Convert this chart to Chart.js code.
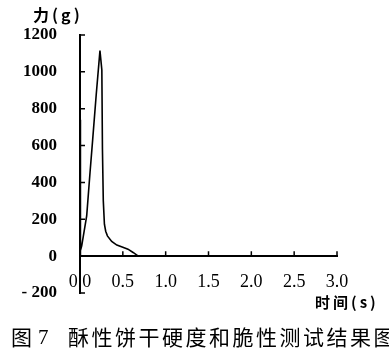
<!DOCTYPE html>
<html>
<head>
<meta charset="utf-8">
<script src="https://cdn.jsdelivr.net/npm/chart.js@4.4.0/dist/chart.umd.min.js"></script>
<style>
  body { margin: 0; background: #fff; }
  #wrap { width: 389px; height: 356px; position: relative; }
</style>
</head>
<body>
<div id="wrap"><canvas id="chart"></canvas></div>
<script>
// 时间 (s) 和 力 (g)
const times  = [0, 0, 0.01, 0.02, 0.078, 0.117, 0.148, 0.19, 0.233, 0.255, 0.262, 0.272, 0.285, 0.3, 0.32, 0.37, 0.43, 0.5, 0.56, 0.62, 0.68];
const forces = [0, 740, 30, 56, 218, 454, 632, 880, 1115, 1010, 580, 300, 173, 135, 110, 80, 60, 48, 38, 20, 0];

const xTicks = [0, 0.5, 1.0, 1.5, 2.0, 2.5, 3.0];
const yTicks = [-200, 0, 200, 400, 600, 800, 1000, 1200];

const yTitle = '力(g)';
const xTitle = '时间(s)';
const caption = '图 7';
const captionText = '酥性饼干硬度和脆性测试结果图';

const points = times.map((t, i) => ({ x: t, y: forces[i] }));

// 画向内的刻度和文字
const extras = {
    id: 'extras',
    afterDraw(chart) {
        const ctx = chart.ctx;
        const xs = chart.scales.x, ys = chart.scales.y;
        const left = chart.chartArea.left;
        const y0 = ys.getPixelForValue(0);
        ctx.save();
        ctx.strokeStyle = '#000';
        ctx.lineWidth = 1.5;
        ctx.beginPath();
        xTicks.forEach(v => {
            const px = xs.getPixelForValue(v);
            ctx.moveTo(px, y0);
            ctx.lineTo(px, y0 - 5);
        });
        yTicks.forEach(v => {
            const py = ys.getPixelForValue(v);
            ctx.moveTo(left, py);
            ctx.lineTo(left + 5, py);
        });
        ctx.stroke();

        ctx.fillStyle = '#000';
        ctx.textBaseline = 'middle';
        ctx.textAlign = 'left';
        ctx.letterSpacing = '3px';
        ctx.font = 'bold 16px "Noto Sans CJK SC"';
        ctx.fillText(yTitle, 33, 15);
        ctx.font = 'bold 15px "Noto Sans CJK SC"';
        ctx.fillText(xTitle, 315, 302);
        ctx.letterSpacing = '0px';

        ctx.font = '21px "Noto Sans CJK SC"';
        ctx.fillText('图', 11, 337);
        ctx.font = '21px "Liberation Serif"';
        ctx.fillText('7', 38, 338);
        ctx.font = '21px "Noto Sans CJK SC"';
        let cx = 68;
        for (const ch of captionText) {
            ctx.fillText(ch, cx, 337);
            cx += 23.5;
        }
        ctx.restore();
    }
};

const config = {
    type: 'line',
    data: {
        datasets: [{
            data: points,
            borderColor: '#000',
            borderWidth: 1.6,
            pointRadius: 0,
            tension: 0,
            fill: false
        }]
    },
    options: {
        responsive: true,
        maintainAspectRatio: false,
        animation: false,
        layout: { padding: { left: 0, right: 52, top: 35, bottom: 63 } },
        plugins: {
            legend: { display: false },
            tooltip: { enabled: false }
        },
        scales: {
            x: {
                type: 'linear',
                position: { y: 0 },
                min: 0,
                max: 3,
                afterFit: s => { s.height = 0; },
                afterBuildTicks: s => { s.ticks = xTicks.map(v => ({ value: v })); },
                grid: { display: false, drawTicks: false },
                border: { display: true, color: '#000', width: 2 },
                ticks: {
                    color: '#000',
                    padding: 15,
                    maxRotation: 0,
                    font: { family: '"Liberation Serif"', size: 18 },
                    callback: v => v.toFixed(1)
                }
            },
            y: {
                min: -200,
                max: 1200,
                afterFit: s => { s.width = 80; },
                afterBuildTicks: s => { s.ticks = yTicks.map(v => ({ value: v })); },
                grid: { display: false, drawTicks: false },
                border: { display: true, color: '#000', width: 2 },
                ticks: {
                    color: '#000',
                    padding: 23,
                    font: { family: '"Liberation Serif"', size: 17, weight: 'bold' },
                    callback: v => v < 0 ? '- ' + Math.abs(v) : String(v)
                }
            }
        }
    },
    plugins: [extras]
};

const chart = new Chart(document.getElementById('chart'), config);
</script>
</body>
</html>
